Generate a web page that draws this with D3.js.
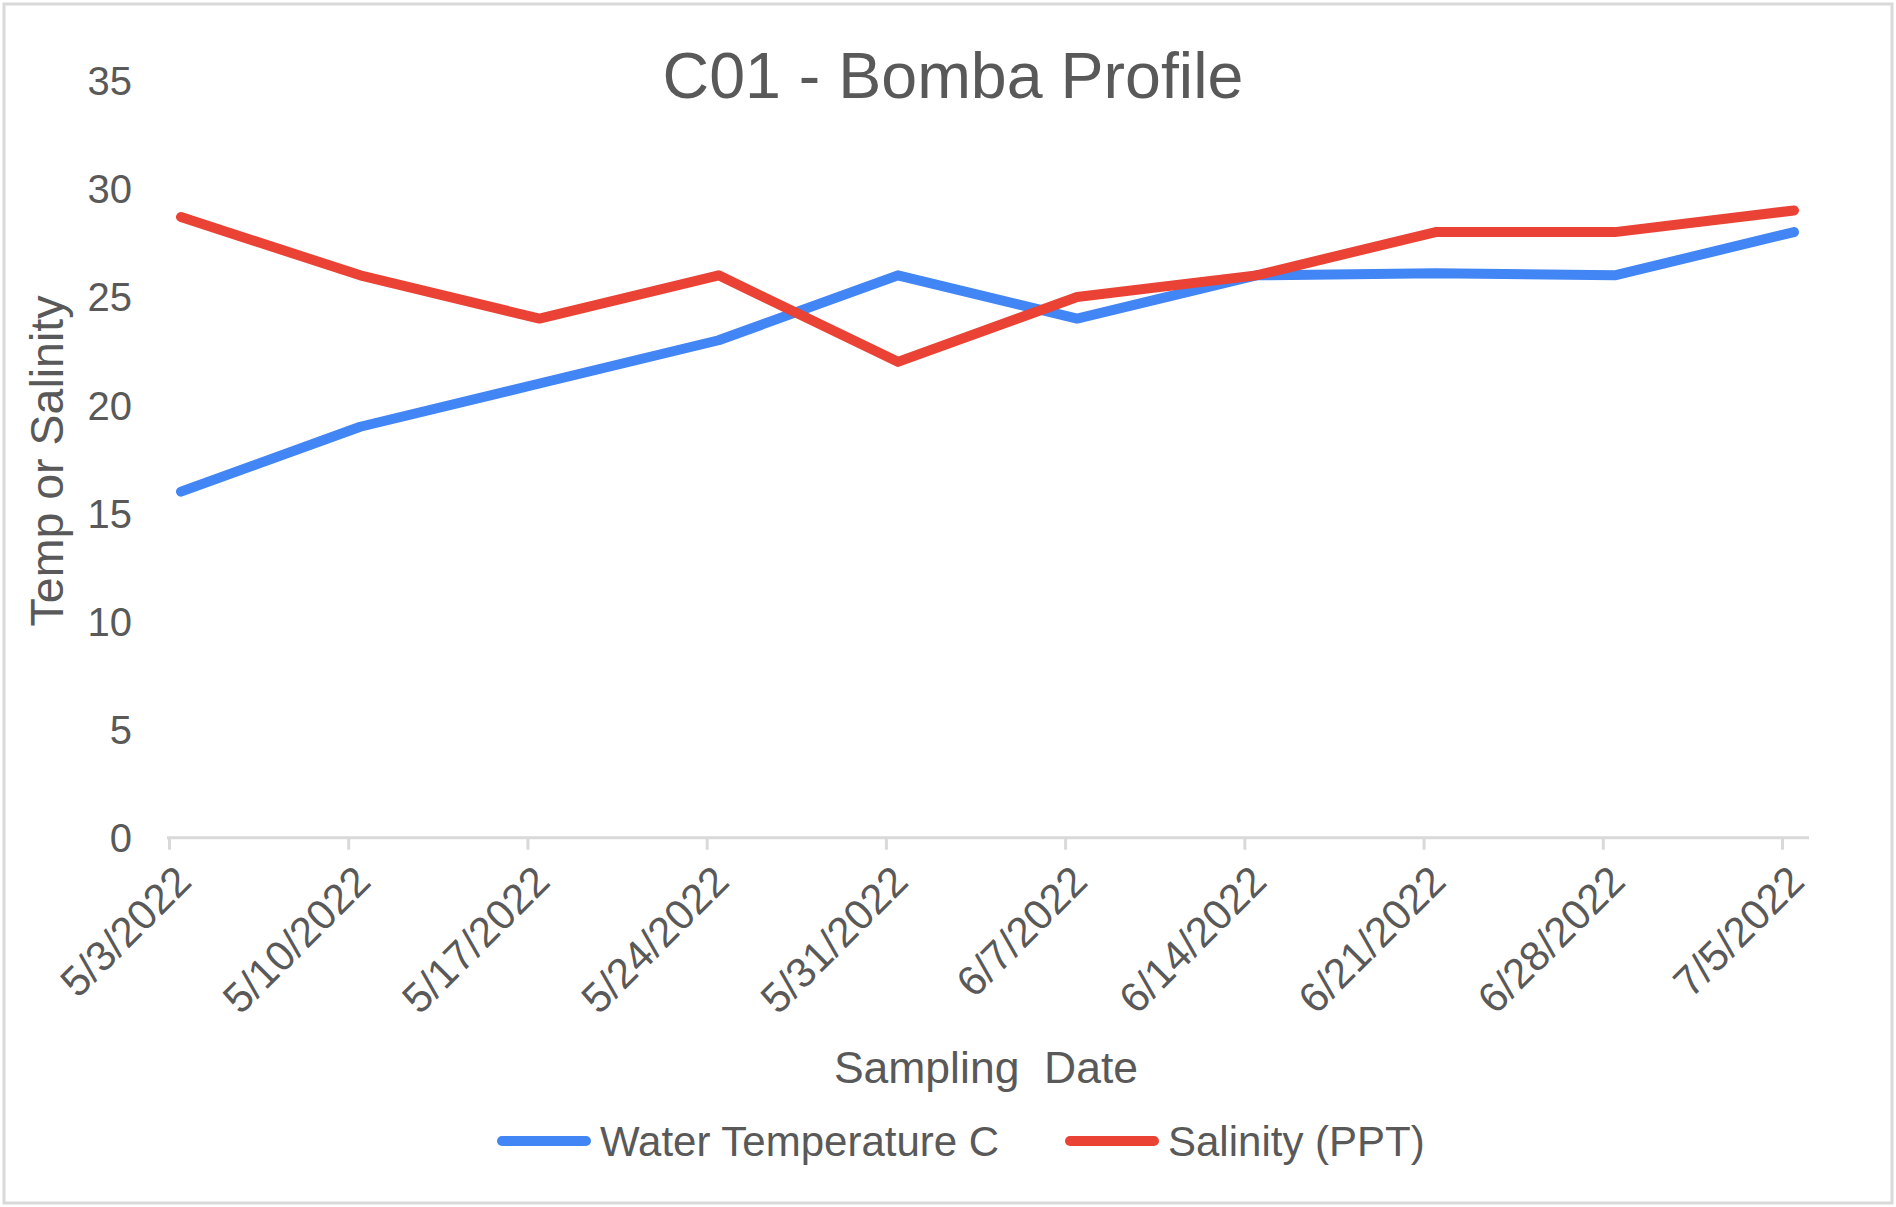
<!DOCTYPE html>
<html>
<head>
<meta charset="utf-8">
<script src="https://cdn.jsdelivr.net/npm/d3@7"></script>
<style>
  html, body { margin: 0; padding: 0; background: #fff; }
  svg { display: block; }
  text { font-family: "Liberation Sans", Arial, sans-serif; fill: #595959; }
</style>
</head>
<body>
<svg id="chart" width="1896" height="1207"></svg>
<script>
const dates = ["5/3/2022", "5/10/2022", "5/17/2022", "5/24/2022", "5/31/2022",
               "6/7/2022", "6/14/2022", "6/21/2022", "6/28/2022", "7/5/2022"];
const waterTemp = [16, 19, 21, 23, 26, 24, 26, 26.1, 26, 28];
const salinity = [28.7, 26, 24, 26, 22, 25, 26, 28, 28, 29];
const yTicks = [0, 5, 10, 15, 20, 25, 30, 35];
const seriesNames = ["Water Temperature C", "Salinity (PPT)"];
const seriesColors = ["#4285F4", "#EA4335"];
const chartTitle = "C01 - Bomba Profile";
const xTitle = "Sampling  Date";
const yTitle = "Temp or Salinity";

const svg = d3.select("#chart");

// border
svg.append("rect")
  .attr("x", 4).attr("y", 4).attr("width", 1888).attr("height", 1199)
  .attr("fill", "#fff").attr("stroke", "#d9d9d9").attr("stroke-width", 3);

const x = d3.scalePoint().domain(dates).range([181, 1794]);
const tickOffset = -12;
const y = d3.scaleLinear().domain([0, 35]).range([837.7, 80.7]);

// title
svg.append("text")
  .attr("x", 953).attr("y", 98)
  .attr("text-anchor", "middle")
  .attr("font-size", 64.5)
  .text(chartTitle);

// y axis labels
const yAxis = svg.append("g")
  .attr("transform", "translate(132,0)")
  .call(d3.axisLeft(y).tickValues(yTicks).tickSize(0).tickPadding(0).tickFormat(d3.format("d")));
yAxis.select(".domain").remove();
yAxis.selectAll("text")
  .attr("font-size", 40)
  .attr("font-family", "Liberation Sans, Arial, sans-serif")
  .attr("fill", "#595959")
  .attr("dy", "0.35em");

// y title
svg.append("text")
  .attr("transform", "translate(63,461) rotate(-90)")
  .attr("text-anchor", "middle")
  .attr("font-size", 46.5)
  .text(yTitle);

// x axis
const xAxisG = svg.append("g")
  .attr("transform", `translate(${tickOffset},${y(0)})`)
  .call(d3.axisBottom(x).tickSize(12).tickPadding(0));
xAxisG.select(".domain")
  .attr("d", `M${x.range()[0] - 2},0H${x.range()[1] + 27}`)
  .attr("stroke", "#d9d9d9").attr("stroke-width", 3);
xAxisG.selectAll(".tick line").attr("stroke", "#d9d9d9").attr("stroke-width", 3);
xAxisG.selectAll(".tick text")
  .attr("font-size", 42)
  .attr("font-family", "Liberation Sans, Arial, sans-serif")
  .attr("fill", "#595959")
  .attr("text-anchor", "end")
  .attr("dy", null)
  .attr("y", null)
  .attr("transform", "translate(24,46) rotate(-45)");

// x title
svg.append("text")
  .attr("x", 986).attr("y", 1083)
  .attr("text-anchor", "middle")
  .attr("font-size", 44.5)
  .style("white-space", "pre")
  .text(xTitle);

// lines
const series = [waterTemp, salinity];
const line = d3.line().x((d, i) => x(dates[i])).y(d => y(d));
series.forEach((s, k) => {
  svg.append("path")
    .datum(s)
    .attr("d", line)
    .attr("fill", "none")
    .attr("stroke", seriesColors[k])
    .attr("stroke-width", 10)
    .attr("stroke-linejoin", "round")
    .attr("stroke-linecap", "round");
});

// legend
const legendX = [498, 1066];
seriesNames.forEach((name, k) => {
  const g = svg.append("g").attr("transform", `translate(${legendX[k]},1141)`);
  g.append("line")
    .attr("x1", 4).attr("x2", 88).attr("y1", 0).attr("y2", 0)
    .attr("stroke", seriesColors[k]).attr("stroke-width", 10)
    .attr("stroke-linecap", "round");
  g.append("text")
    .attr("x", 102).attr("y", 15)
    .attr("font-size", 42)
    .text(name);
});
</script>
</body>
</html>
